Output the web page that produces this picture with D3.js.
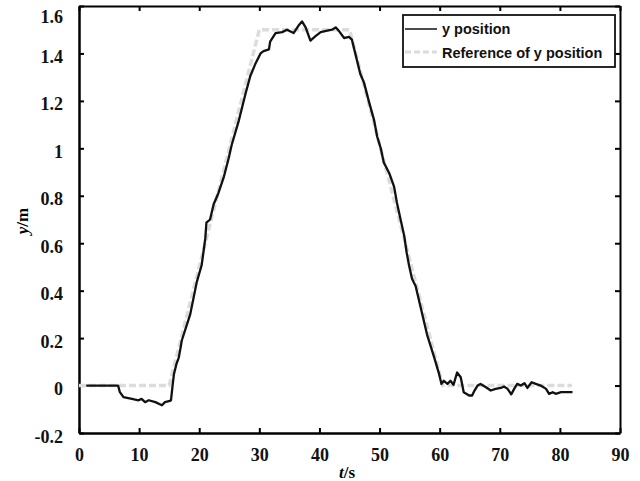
<!DOCTYPE html>
<html>
<head>
<meta charset="utf-8">
<script src="https://cdn.jsdelivr.net/npm/d3@7"></script>
<style>
  body { margin: 0; background: #fff; }
</style>
</head>
<body>
<div id="chart"></div>
<script>
// frame size
const FRAME_WIDTH = 640;
const FRAME_HEIGHT = 481;
const MARGINS = {left: 79, right: 20, top: 6, bottom: 48};

const VIS_WIDTH = FRAME_WIDTH - MARGINS.left - MARGINS.right;
const VIS_HEIGHT = FRAME_HEIGHT - MARGINS.top - MARGINS.bottom;

// data: measured y position (t, y)
const posT = [1.2, 3, 5, 6.5, 6.8, 7.4, 8.8, 9.9, 10.4, 11, 11.6, 12.7, 13.8, 14.3, 15.1, 15.3,
  15.6, 15.8, 16.2, 16.6, 16.9, 17.1, 18.5, 19.6, 20.4, 20.7, 21, 21.2, 21.8, 22.4, 23.2, 24.1,
  24.9, 25.4, 26.6, 27.7, 28.5, 29.3, 30.2, 30.7, 31.6, 31.8, 32.7, 33.8, 34.6, 35.7, 36.6, 37.1,
  37.7, 38.5, 39.3, 40.2, 41.3, 42.1, 42.7, 43.2, 44.1, 44.9, 45.4, 46, 46.8, 47.4, 48.2, 49.1,
  49.6, 50.2, 50.7, 51.6, 52.4, 52.9, 53.5, 54.1, 54.5, 54.9, 55.4, 56, 57.9, 59.1, 59.9, 60.3,
  60.7, 61.3, 61.8, 62.3, 62.9, 63.5, 64, 64.9, 65.4, 65.8, 66.3, 66.8, 67.7, 68.5, 69.3, 70.2,
  70.7, 71.3, 71.9, 72.4, 72.9, 73.5, 74.1, 74.6, 75.3, 76, 76.8, 77.7, 78.2, 78.8, 79.3, 80.2, 82.1];
const posY = [0, 0, 0, 0, -0.028, -0.049, -0.056, -0.062, -0.056, -0.07, -0.062, -0.07, -0.083, -0.07, -0.065, -0.062,
  0.007, 0.049, 0.09, 0.118, 0.16, 0.19, 0.30, 0.437, 0.507, 0.562, 0.618, 0.687, 0.70, 0.764, 0.812, 0.88,
  0.958, 1.014, 1.118, 1.23, 1.305, 1.354, 1.40, 1.41, 1.417, 1.45, 1.486, 1.49, 1.50, 1.486, 1.52, 1.535,
  1.51, 1.454, 1.472, 1.49, 1.496, 1.50, 1.51, 1.496, 1.465, 1.47, 1.458, 1.396, 1.313, 1.278, 1.2, 1.118,
  1.05, 1.0, 0.94, 0.896, 0.84, 0.77, 0.70, 0.632, 0.562, 0.507, 0.45, 0.42, 0.215, 0.118, 0.049, 0.007,
  0.02, 0.007, 0.02, 0.003, 0.055, 0.035, -0.028, -0.042, -0.042, -0.021, 0, 0.007, -0.007, -0.021, -0.014, -0.01,
  -0.004, -0.014, -0.037, -0.014, 0.007, 0, 0.01, -0.01, 0.014, 0.007, 0, -0.014, -0.035, -0.028, -0.035, -0.028, -0.028];

// data: reference trajectory
const refT = [0, 15, 30, 45, 60.5, 82];
const refY = [0, 0, 1.5, 1.5, 0, 0];

// tick labels
const X_TICKS = [0, 10, 20, 30, 40, 50, 60, 70, 80, 90];
const Y_TICKS = [-0.2, 0, 0.2, 0.4, 0.6, 0.8, 1, 1.2, 1.4, 1.6];

const LEGEND_LABELS = ["y position", "Reference of y position"];

const SERIF = "'Liberation Serif', 'Times New Roman', serif";
const SANS = "'Liberation Sans', Arial, sans-serif";

const SVG = d3.select("#chart")
              .append("svg")
                .attr("width", FRAME_WIDTH)
                .attr("height", FRAME_HEIGHT);

const X_SCALE = d3.scaleLinear().domain([0, 90]).range([MARGINS.left, MARGINS.left + VIS_WIDTH]);
const Y_SCALE = d3.scaleLinear().domain([-0.2, 1.6]).range([MARGINS.top + VIS_HEIGHT, MARGINS.top]);

// plain hyphen minus like the original
const fmt = (d) => String(+d.toFixed(1));

function styleLabels(g) {
    g.selectAll(".tick text")
        .attr("font-family", SERIF)
        .attr("font-weight", "bold")
        .attr("font-size", 18)
        .attr("fill", "#111");
}

// bottom axis
SVG.append("g")
    .attr("transform", "translate(0," + (MARGINS.top + VIS_HEIGHT) + ")")
    .call(d3.axisBottom(X_SCALE).tickValues(X_TICKS).tickSizeInner(-5).tickSizeOuter(0).tickPadding(15).tickFormat(fmt))
    .call((g) => g.select(".domain").attr("stroke-width", 2.5))
    .call(styleLabels);

// top axis
SVG.append("g")
    .attr("transform", "translate(0," + MARGINS.top + ")")
    .call(d3.axisTop(X_SCALE).tickValues(X_TICKS).tickSizeInner(-5).tickSizeOuter(0).tickFormat(""))
    .call((g) => g.select(".domain").attr("stroke-width", 2));

// left axis
SVG.append("g")
    .attr("transform", "translate(" + MARGINS.left + ",0)")
    .call(d3.axisLeft(Y_SCALE).tickValues(Y_TICKS).tickSizeInner(-5).tickSizeOuter(0).tickPadding(16).tickFormat(fmt))
    .call((g) => g.select(".domain").attr("stroke-width", 2.5))
    .call(styleLabels)
    .call((g) => g.selectAll(".tick text").attr("dy", (d) => d === 1.6 ? "0.9em" : "0.5em"));

// right axis
SVG.append("g")
    .attr("transform", "translate(" + (MARGINS.left + VIS_WIDTH) + ",0)")
    .call(d3.axisRight(Y_SCALE).tickValues(Y_TICKS).tickSizeInner(-5).tickSizeOuter(0).tickFormat(""))
    .call((g) => g.select(".domain").attr("stroke-width", 2));

SVG.selectAll(".tick line").attr("stroke-width", 2);

// reference line (light grey dashed)
const refData = refT.map((t, i) => ({t: t, y: refY[i]}));
const posData = posT.map((t, i) => ({t: t, y: posY[i]}));
const LINE = d3.line().x((d) => X_SCALE(d.t)).y((d) => Y_SCALE(d.y));

SVG.append("path")
    .datum(refData)
    .attr("d", LINE)
    .attr("fill", "none")
    .attr("stroke", "#dcdcdc")
    .attr("stroke-width", 3.5)
    .attr("stroke-dasharray", "7,3");

// measured line
SVG.append("path")
    .datum(posData)
    .attr("d", LINE)
    .attr("fill", "none")
    .attr("stroke", "#111")
    .attr("stroke-width", 2.3)
    .attr("stroke-linejoin", "round");

// axis titles
const yTitle = SVG.append("text")
    .attr("transform", "translate(28,221) rotate(-90)")
    .attr("text-anchor", "middle")
    .attr("font-family", SERIF)
    .attr("font-weight", "bold")
    .attr("font-size", 17);
yTitle.append("tspan").attr("font-style", "italic").text("y");
yTitle.append("tspan").text("/m");

const xTitle = SVG.append("text")
    .attr("x", 347)
    .attr("y", 478)
    .attr("text-anchor", "middle")
    .attr("font-family", SERIF)
    .attr("font-weight", "bold")
    .attr("font-size", 17);
xTitle.append("tspan").attr("font-style", "italic").text("t");
xTitle.append("tspan").text("/s");

// legend
const LEG = SVG.append("g");
LEG.append("rect")
    .attr("x", 403).attr("y", 15)
    .attr("width", 212).attr("height", 52)
    .attr("fill", "#fff")
    .attr("stroke", "#111")
    .attr("stroke-width", 1.8);

LEG.append("line")
    .attr("x1", 405).attr("x2", 437).attr("y1", 29).attr("y2", 29)
    .attr("stroke", "#111").attr("stroke-width", 1.5);
LEG.append("line")
    .attr("x1", 405).attr("x2", 437).attr("y1", 52).attr("y2", 52)
    .attr("stroke", "#dcdcdc").attr("stroke-width", 3).attr("stroke-dasharray", "6,3");

LEG.selectAll("text.leg")
    .data(LEGEND_LABELS)
    .enter()
    .append("text")
      .attr("class", "leg")
      .attr("x", 442)
      .attr("y", (d, i) => 34 + i * 24)
      .attr("font-family", SANS)
      .attr("font-weight", "bold")
      .attr("font-size", 14.5)
      .attr("fill", "#111")
      .text((d) => d);
</script>
</body>
</html>
